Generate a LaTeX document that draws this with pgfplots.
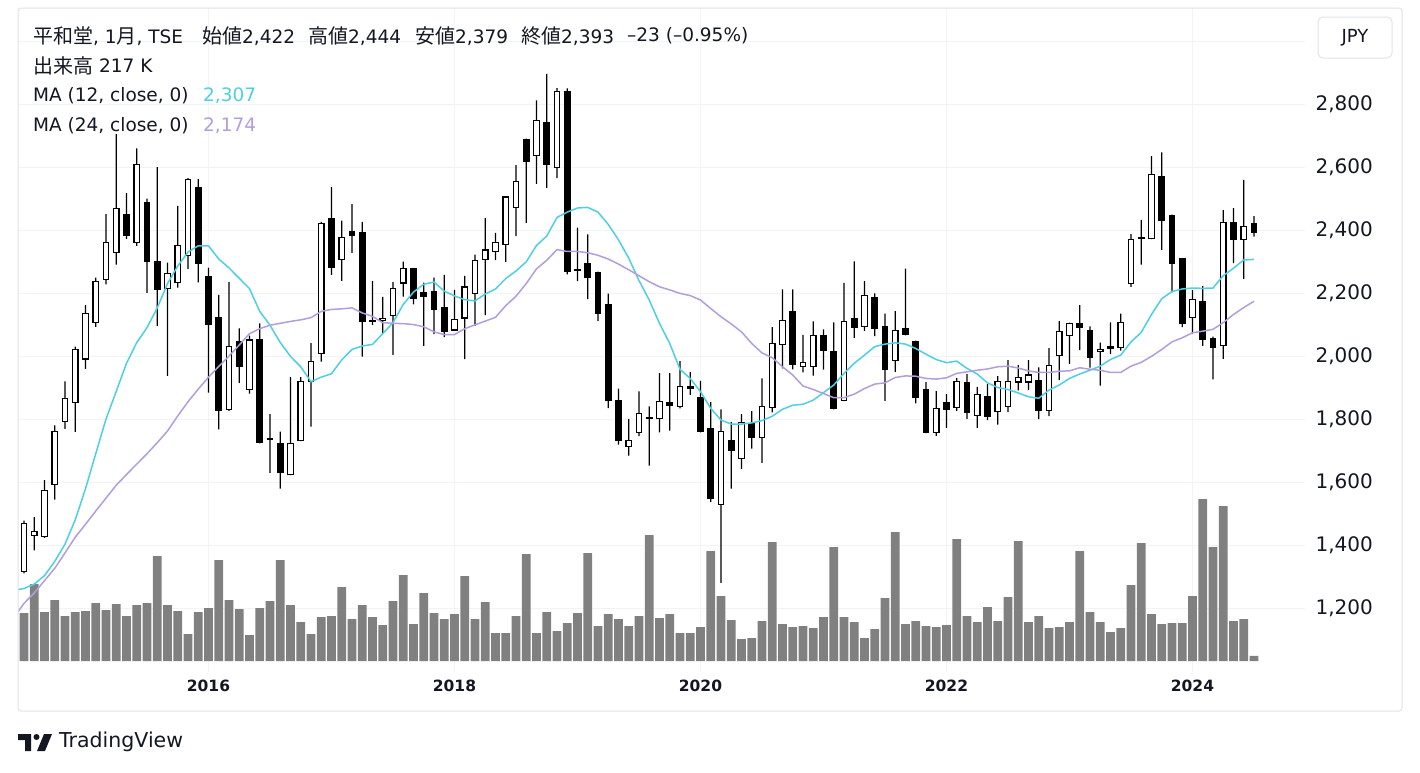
\documentclass[border=0pt]{standalone}
\usepackage{pgfplots}
\pgfplotsset{compat=1.18}
\usepackage{pgfplotstable}
\usepackage{fontspec}
\setmainfont{DejaVu Sans}
\newfontfamily\jp[Scale=1.08]{Noto Sans CJK JP}
\definecolor{txt}{RGB}{19,23,34}
\definecolor{macyan}{RGB}{77,208,225}
\definecolor{malav}{RGB}{179,157,219}
\definecolor{volgray}{RGB}{128,128,128}
\definecolor{gridc}{RGB}{240,243,250}
\definecolor{framec}{RGB}{224,227,235}

\pgfplotstableread{
i o h l c v
0 1317 1478 1310 1468 2064
1 1430 1489 1383 1444 3311
2 1427 1606 1423 1573 2107
3 1593 1780 1544 1760 2623
4 1792 1920 1769 1865 1935
5 1853 2030 1759 2020 2107
6 1991 2162 1959 2136 2150
7 2107 2249 2093 2237 2494
8 2244 2451 2228 2361 2193
9 2329 2705 2290 2469 2451
10 2448 2517 2372 2382 1935
11 2361 2659 2350 2608 2408
12 2488 2500 2201 2302 2494
13 2300 2600 2096 2211 4515
14 2215 2297 1937 2263 2408
15 2234 2477 2217 2351 2150
16 2320 2565 2277 2561 1161
17 2536 2562 2234 2295 2107
18 2253 2281 1884 2102 2279
19 2123 2194 1767 1827 4343
20 1831 2235 1826 2031 2623
21 2047 2088 1915 1966 2236
22 1894 2065 1881 2051 1118
23 2051 2104 1723 1725 2279
24 1738 1816 1629 1734 2580
25 1721 1760 1579 1632 4343
26 1625 1933 1622 1723 2408
27 1732 1933 1730 1919 1677
28 1919 2041 1776 1984 1161
29 2009 2426 1982 2421 1892
30 2437 2536 2258 2283 1935
31 2307 2430 2239 2376 3182
32 2396 2482 2328 2382 1806
33 2391 2426 1998 2109 2408
34 2114 2238 2099 2110 1892
35 2112 2188 2074 2119 1548
36 2129 2235 2004 2215 2580
37 2232 2300 2189 2277 3698
38 2278 2280 2164 2184 1591
39 2203 2233 2032 2190 2924
40 2205 2249 2070 2149 2064
41 2154 2258 2060 2079 1806
42 2083 2210 2080 2115 2021
43 2121 2255 1990 2219 3655
44 2198 2322 2096 2303 1806
45 2306 2438 2130 2337 2537
46 2331 2391 2305 2360 1204
47 2354 2508 2299 2505 1204
48 2471 2606 2381 2553 1935
49 2687 2690 2423 2619 4601
50 2637 2812 2547 2747 1204
51 2740 2896 2534 2610 2107
52 2599 2851 2565 2840 1290
53 2840 2850 2259 2270 1634
54 2275 2408 2238 2272 2064
55 2294 2386 2181 2251 4644
56 2266 2268 2111 2136 1505
57 2164 2198 1835 1860 2021
58 1858 1897 1719 1732 1806
59 1714 1801 1684 1733 1505
60 1758 1888 1746 1817 1935
61 1805 1840 1652 1802 5418
62 1802 1946 1758 1856 1849
63 1853 1946 1763 1843 2021
64 1840 1984 1834 1904 1204
65 1904 1949 1877 1896 1204
66 1869 1921 1758 1760 1462
67 1771 1854 1537 1547 4730
68 1529 1831 1280 1761 2795
69 1733 1790 1579 1702 1763
70 1674 1816 1642 1789 946
71 1786 1825 1706 1741 989
72 1742 1929 1661 1839 1720
73 1837 2092 1821 2040 5117
74 2037 2212 1961 2113 1591
75 2142 2212 1958 1973 1462
76 1967 2067 1948 1980 1505
77 1967 2110 1938 2066 1419
78 2066 2085 1957 2017 1892
79 2015 2107 1831 1833 4902
80 1859 2232 1857 2110 1892
81 2120 2301 2058 2090 1677
82 2094 2238 2080 2193 989
83 2186 2199 2063 2087 1376
84 2094 2135 1858 1957 2709
85 1986 2143 1950 2081 5547
86 2088 2278 2066 2068 1591
87 2047 2049 1850 1868 1720
88 1894 1917 1755 1757 1505
89 1758 1889 1747 1834 1462
90 1851 1879 1772 1831 1548
91 1837 1930 1826 1920 5246
92 1916 1943 1801 1821 1935
93 1812 1902 1772 1878 1677
94 1872 1911 1797 1807 2322
95 1824 1936 1782 1920 1720
96 1840 1987 1822 1920 2752
97 1918 1971 1891 1932 5160
98 1918 1987 1892 1940 1677
99 1921 1964 1800 1826 1935
100 1826 2025 1809 1971 1419
101 2002 2111 1924 2078 1462
102 2066 2106 1975 2104 1677
103 2104 2162 2019 2090 4730
104 2081 2094 1963 1995 2107
105 2015 2043 1906 2021 1677
106 2029 2107 2006 2024 1247
107 2027 2135 2017 2107 1419
108 2231 2387 2220 2370 3268
109 2375 2432 2290 2373 5074
110 2373 2635 2371 2576 2021
111 2570 2647 2337 2432 1591
112 2446 2449 2202 2293 1634
113 2308 2310 2092 2105 1634
114 2122 2209 2071 2179 2795
115 2174 2222 2032 2052 6966
116 2054 2062 1926 2029 4902
117 2034 2463 1991 2425 6665
118 2425 2470 2295 2369 1720
119 2370 2559 2245 2411 1806
120 2422 2444 2379 2393 217
}\candles

\pgfplotstableread{
i m12 m24
-0.585 1259 1188
0 1262 1215
1 1276 1248
2 1303 1287
3 1348 1326
4 1403 1375
5 1480 1425
6 1579 1466
7 1690 1508
8 1800 1549
9 1888 1590
10 1977 1624
11 2043 1657
12 2090 1690
13 2153 1725
14 2230 1762
15 2286 1810
16 2330 1855
17 2350 1895
18 2350 1933
19 2308 1967
20 2280 2000
21 2247 2035
22 2214 2071
23 2142 2087
24 2098 2098
25 2043 2104
26 1999 2110
27 1966 2115
28 1919 2122
29 1933 2142
30 1944 2148
31 1988 2150
32 2021 2153
33 2032 2137
34 2037 2126
35 2071 2106
36 2106 2104
37 2164 2103
38 2203 2100
39 2228 2093
40 2235 2077
41 2206 2068
42 2191 2068
43 2179 2087
44 2175 2099
45 2197 2111
46 2213 2123
47 2246 2160
48 2270 2190
49 2299 2230
50 2351 2277
51 2381 2304
52 2440 2338
53 2457 2332
54 2470 2332
55 2472 2328
56 2457 2320
57 2418 2308
58 2369 2292
59 2311 2274
60 2240 2255
61 2178 2236
62 2104 2220
63 2040 2210
64 1958 2199
65 1929 2192
66 1887 2178
67 1834 2151
68 1797 2125
69 1784 2102
70 1784 2077
71 1788 2040
72 1795 2010
73 1809 1995
74 1831 1966
75 1844 1940
76 1847 1905
77 1860 1894
78 1884 1881
79 1908 1868
80 1945 1868
81 1977 1879
82 2003 1897
83 2030 1911
84 2038 1915
85 2042 1932
86 2038 1937
87 2024 1936
88 2006 1929
89 1989 1927
90 1979 1931
91 1984 1945
92 1961 1950
93 1943 1955
94 1915 1959
95 1900 1966
96 1894 1968
97 1883 1962
98 1871 1953
99 1866 1948
100 1892 1948
101 1908 1952
102 1929 1953
103 1943 1963
104 1955 1958
105 1968 1955
106 1989 1948
107 2003 1948
108 2045 1968
109 2075 1980
110 2132 1999
111 2182 2021
112 2205 2045
113 2213 2058
114 2216 2074
115 2215 2079
116 2216 2085
117 2255 2106
118 2279 2132
119 2305 2154
120 2307 2174
}\mas

\pgfplotsset{base/.style={scale only axis, width=1287pt, height=664pt,
  xmin=-0.585, xmax=124.98, at={(18pt,-672pt)}, anchor=south west}}

\begin{document}
\begin{tikzpicture}
\path[use as bounding box, fill=white] (0,0) rectangle (1420pt,-772pt);

% price axis: grid and labels
\begin{axis}[base, ymin=997, ymax=3105,
  axis line style={draw=none}, tick style={draw=none},
  xtick={18,42,66,90,114}, xticklabels={2016,2018,2020,2022,2024},
  xticklabel style={font=\fontsize{15.5}{15.5}\selectfont\bfseries, text=txt, yshift=-4pt},
  ytick={1200,1400,1600,1800,2000,2200,2400,2600,2800},
  extra y ticks={3000}, extra y tick labels={},
  yticklabel pos=right,
  yticklabel style={font=\fontsize{20}{20}\selectfont, text=txt, anchor=west, xshift=7pt},
  /pgf/number format/1000 sep={,},
  /pgf/number format/assume math mode=true,
  grid=major, grid style={draw=gridc, line width=1pt},
  extra tick style={grid=major}]
\end{axis}

% volume
\begin{axis}[base, hide axis, ymin=-473, ymax=28079, ybar, bar width=8.7pt]
\addplot[fill=volgray, draw=none] table[x=i, y=v]{\candles};
\end{axis}

% wicks
\begin{axis}[base, hide axis, ymin=997, ymax=3105, ybar stacked, bar width=1.3pt]
\addplot[draw=none, fill=none] table[x=i, y=l]{\candles};
\addplot[fill=black, draw=none] table[x=i, y expr=\thisrow{h}-\thisrow{l}]{\candles};
\end{axis}

% bodies
\begin{axis}[base, hide axis, ymin=997, ymax=3105, ybar stacked, bar width=5.4pt]
\addplot[draw=none, fill=none] table[x=i, y expr={min(\thisrow{o},\thisrow{c})}]{\candles};
\addplot[fill=white, draw=black, line width=1.2pt] table[x=i, y expr={max(\thisrow{c}-\thisrow{o},0)}]{\candles};
\addplot[fill=black, draw=black, line width=1.2pt] table[x=i, y expr={max(\thisrow{o}-\thisrow{c},0)}]{\candles};
\end{axis}

% moving averages
\begin{axis}[base, hide axis, ymin=997, ymax=3105]
\addplot[macyan, line width=1.5pt] table[x=i, y=m12]{\mas};
\addplot[malav, line width=1.5pt] table[x=i, y=m24]{\mas};
\end{axis}

% frame
\draw[framec, line width=1pt, rounded corners=3pt] (18pt,-8pt) rectangle (1402pt,-711pt);

% header
\begin{scope}[every node/.style={anchor=west, text=txt, inner sep=0pt, font=\fontsize{18.5}{18.5}\selectfont}]
\node at (33pt,-36pt) {{\jp 平和堂}, 1{\jp 月}, TSE};
\node at (202pt,-36pt) {{\jp 始値}2,422};
\node at (308pt,-36pt) {{\jp 高値}2,444};
\node at (415pt,-36pt) {{\jp 安値}2,379};
\node at (521pt,-36pt) {{\jp 終値}2,393};
\node at (627pt,-36pt) {–23 (–0.95\%)};
\node at (33pt,-66pt) {{\jp 出来高}};
\node at (99pt,-66pt) {217 K};
\node at (33pt,-96pt) {MA (12, close, 0)};
\node[text=macyan] at (203pt,-96pt) {2,307};
\node at (33pt,-126pt) {MA (24, close, 0)};
\node[text=malav] at (203pt,-126pt) {2,174};
\end{scope}

% JPY button
\draw[framec, line width=1pt, rounded corners=5pt] (1318pt,-17pt) rectangle (1392pt,-58pt);
\node[text=txt, font=\fontsize{18}{18}\selectfont] at (1355pt,-38pt) {JPY};

% TradingView logo
\fill[txt] (18pt,-734pt) -- (31pt,-734pt) -- (31pt,-751pt) -- (25pt,-751pt) -- (25pt,-740pt) -- (18pt,-740pt) -- cycle;
\fill[txt] (36.5pt,-737pt) circle (3pt);
\fill[txt] (44pt,-734pt) -- (52pt,-734pt) -- (45pt,-751pt) -- (37pt,-751pt) -- cycle;
\node[anchor=west, text=txt, inner sep=0pt, font=\fontsize{20.5}{20.5}\selectfont] at (59pt,-742pt) {TradingView};
\end{tikzpicture}
\end{document}
